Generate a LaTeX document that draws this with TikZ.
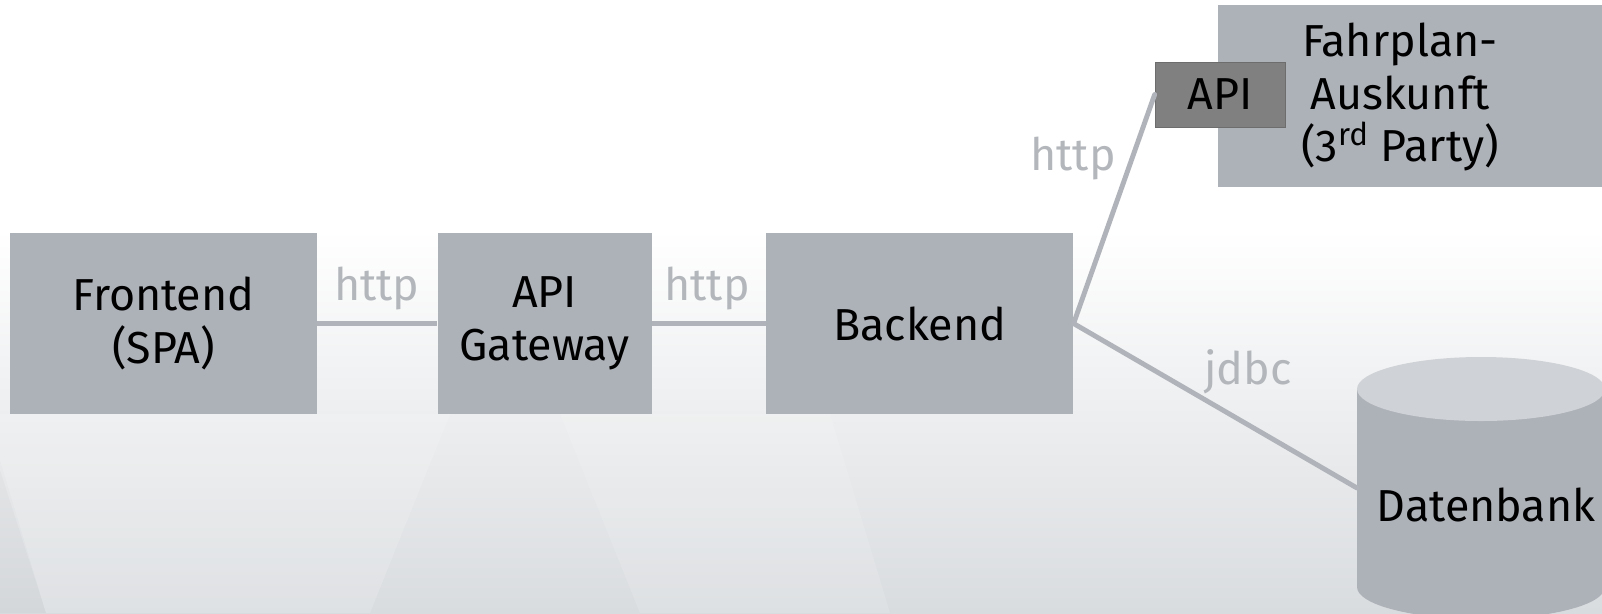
\documentclass[tikz,border=0pt]{standalone}
\usepackage{fontspec}
\setmainfont{Fira Sans}
\usetikzlibrary{positioning}
\definecolor{boxgray}{HTML}{ADB1B8}
\definecolor{apigray}{HTML}{808080}
\definecolor{linegray}{HTML}{B0B4BA}
\definecolor{labelgray}{HTML}{B3B7BC}
\definecolor{dbtop}{HTML}{CFD2D6}
\definecolor{bgbottom}{HTML}{D9DCDF}

\begin{document}
\begin{tikzpicture}[x=0.02cm, y=-0.02cm,
    txt/.style={font=\fontsize{25.5}{30}\selectfont},
    box/.style={txt, fill=boxgray, inner sep=0pt, align=center, minimum height=3.62cm},
    apibox/.style={txt, fill=apigray, draw=apigray!85!black, line width=0.4pt, inner sep=0pt, minimum width=2.6cm, minimum height=1.3cm},
    proto/.style={txt, text=labelgray, inner sep=0pt},
    link/.style={linegray, line width=2.8pt}]
    \useasboundingbox (0,0) rectangle (1602,613);

    % background
    \fill[white] (0,0) rectangle (1602,613);
    \shade[top color=white, bottom color=bgbottom] (0,230) rectangle (1602,613);
    \fill[white, opacity=.15] (46,613) -- (0,460) -- (0,414) -- (450,414) -- (370,613) -- cycle;
    \fill[white, opacity=.12] (640,613) -- (560,414) -- (830,414) -- (890,613) -- cycle;
    \fill[black, opacity=.02] (0,470) -- (46,613) -- (0,613) -- cycle;

    % boxes
    \node[box, minimum width=6.14cm] (front) at (163.5,323.5) {Frontend\\(SPA)};
    \node[box, minimum width=4.28cm, right=2.4cm of front] (gateway) {API\\Gateway};
    \node[box, minimum width=6.14cm, right=2.28cm of gateway] (backend) {Backend};

    \fill[boxgray] (1218,5) rectangle (1640,187);
    \node[txt, align=center] (fahrplan) at (1400,97) {Fahrplan-\\Auskunft\\(3\textsuperscript{rd} Party)};
    \node[apibox] (api) at (1220,94.5) {API};

    % database
    \fill[boxgray] (1357,389) rectangle (1605,587);
    \fill[boxgray] (1481,587) ellipse [x radius=124, y radius=32];
    \fill[dbtop] (1481,389) ellipse [x radius=124, y radius=32];
    \node[txt] (db) at (1486,505) {Datenbank};
    \coordinate (dbin) at (1357,488);

    % connections
    \draw[link] (front.east) -- (gateway.west);
    \draw[link] (gateway.east) -- (backend.west);
    \draw[link, line cap=round] (backend.east) -- (api.west);
    \draw[link, line cap=round] (backend.east) -- (dbin);

    \node[proto] (p1) at (377,289) {http};
    \node[proto] (p2) at (707,289) {http};
    \node[proto] (p3) at (1073,159) {http};
    \node[proto] (p4) at (1248,372) {jdbc};
  \end{tikzpicture}
\end{document}
